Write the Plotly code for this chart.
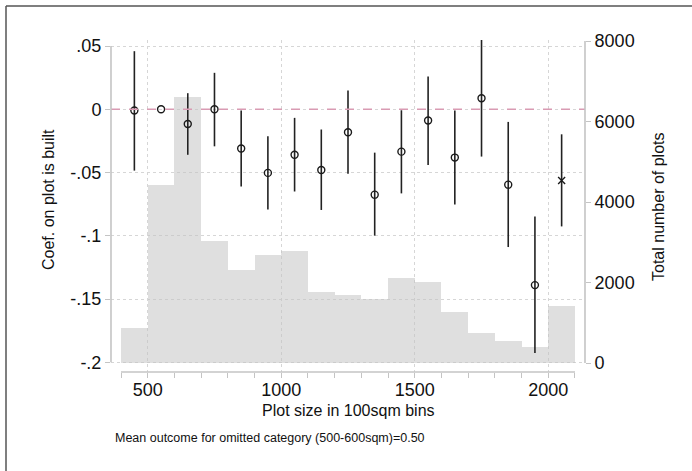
import plotly.graph_objects as go

# ---- data ----
bin_centers = [450, 550, 650, 750, 850, 950, 1050, 1150, 1250, 1350, 1450, 1550, 1650, 1750, 1850, 1950, 2050]
plot_counts = [870, 4430, 6600, 3030, 2300, 2675, 2790, 1775, 1700, 1585, 2120, 2015, 1270, 750, 545, 405, 1410]
coef = [-0.001, 0.0, -0.0116, 0.0, -0.031, -0.0503, -0.036, -0.048, -0.0182, -0.0675,
        -0.0335, -0.0089, -0.0382, 0.0087, -0.0596, -0.139, -0.0564]
ci_high = [0.0459, 0.0, 0.0127, 0.0288, -0.001, -0.0213, -0.0068, -0.016, 0.0148, -0.0343,
           -0.0008, 0.0259, -0.001, 0.0551, -0.01, -0.0847, -0.0198]
ci_low = [-0.0485, 0.0, -0.036, -0.0293, -0.061, -0.0793, -0.065, -0.0796, -0.0509, -0.0999,
          -0.0665, -0.044, -0.0752, -0.0374, -0.1089, -0.1927, -0.0926]
marker_symbols = ["circle-open"] * 16 + ["x-thin-open"]

x_major = [500, 1000, 1500, 2000]
x_minor = list(range(400, 2101, 100))
coef_ticks = [-0.2, -0.15, -0.1, -0.05, 0, 0.05]
coef_labels = ["-.2", "-.15", "-.1", "-.05", "0", ".05"]
count_ticks = [0, 2000, 4000, 6000, 8000]
count_labels = ["0", "2000", "4000", "6000", "8000"]

FONT = "Liberation Sans"
AXC = "#c4c4c4"

err_plus = [h - c for h, c in zip(ci_high, coef)]
err_minus = [c - l for c, l in zip(coef, ci_low)]

fig = go.Figure()
fig.add_trace(go.Bar(
    x=bin_centers, y=plot_counts, width=100,
    marker=dict(color="rgba(196,196,196,0.55)", line=dict(width=0)),
    yaxis="y", showlegend=False, hoverinfo="skip",
))
fig.add_trace(go.Scatter(
    x=bin_centers, y=coef, yaxis="y2", mode="markers",
    marker=dict(symbol=marker_symbols, size=7, color="#1a1a1a",
                line=dict(color="#1a1a1a", width=1.4)),
    error_y=dict(type="data", symmetric=False, array=err_plus, arrayminus=err_minus,
                 width=0, thickness=1.6, color="#222222"),
    showlegend=False,
))

L, R, T, B = 111, 107, 40, 99
W, H = 692, 471
pw, ph = W - L - R, H - T - B

def px(xp):
    return (xp - L) / pw

def py(yp):
    return (H - B - yp) / ph

fig.update_layout(
    width=W, height=H,
    margin=dict(l=L, r=R, t=T, b=B, pad=0),
    paper_bgcolor="white", plot_bgcolor="white",
    font=dict(family=FONT, color="#111111"),
    bargap=0,
    xaxis=dict(
        range=[362.5, 2137.5], tickvals=x_major, ticktext=[str(v) for v in x_major],
        ticks="outside", ticklen=5, tickcolor=AXC, tickwidth=1.2,
        ticklabelstandoff=-4,
        tickfont=dict(size=18, family=FONT, color="#111111"),
        showgrid=True, gridcolor="#d6d6d6", griddash="dot", gridwidth=1,
        minor=dict(tickvals=x_minor, ticks="outside", ticklen=5, tickcolor=AXC,
                   tickwidth=1.2, showgrid=False),
        zeroline=False, showline=False,
    ),
    yaxis=dict(
        side="right", range=[-223.6, 8024.8], tickvals=count_ticks, ticktext=count_labels,
        ticks="outside", ticklen=5, tickcolor=AXC, tickwidth=1.2,
        tickfont=dict(size=18, family=FONT, color="#111111"),
        showgrid=False, zeroline=False, showline=False,
    ),
    yaxis2=dict(
        side="left", overlaying="y", anchor="x",
        range=[-0.20767, 0.05474], tickvals=coef_ticks, ticktext=coef_labels,
        ticks="outside", ticklen=5, tickcolor=AXC, tickwidth=1.2,
        tickfont=dict(size=18, family=FONT, color="#111111"),
        showgrid=True, gridcolor="#d6d6d6", griddash="dot", gridwidth=1,
        zeroline=False, showline=False,
    ),
)

shapes = [
    # reference line at zero
    dict(type="line", xref="paper", yref="y2", x0=0, x1=1, y0=0, y1=0,
         line=dict(color="#d99bb3", width=1.3, dash="dash"), layer="above"),
    # axis lines
    dict(type="line", xref="paper", yref="y2", x0=0, x1=0, y0=-0.2, y1=0.05,
         line=dict(color=AXC, width=1.6)),
    dict(type="line", xref="paper", yref="y", x0=1, x1=1, y0=0, y1=8000,
         line=dict(color=AXC, width=1.6)),
    dict(type="line", xref="x", yref="paper", x0=400, x1=2100, y0=0, y1=0,
         line=dict(color=AXC, width=1.6)),
    # outer frame (left and top)
    dict(type="line", xref="paper", yref="paper", x0=px(6), x1=px(6), y0=py(6), y1=py(480),
         line=dict(color="#555555", width=1.5)),
    dict(type="line", xref="paper", yref="paper", x0=px(6), x1=px(700), y0=py(6), y1=py(6),
         line=dict(color="#555555", width=1.5)),
]
fig.update_layout(shapes=shapes)

annotations = [
    dict(text="Coef. on plot is built", xref="paper", yref="paper", x=px(48), y=py(200),
         textangle=-90, showarrow=False, xanchor="center", yanchor="middle",
         font=dict(size=16, family=FONT, color="#111111")),
    dict(text="Total number of plots", xref="paper", yref="paper", x=px(658), y=py(207),
         textangle=-90, showarrow=False, xanchor="center", yanchor="middle",
         font=dict(size=16, family=FONT, color="#111111")),
    dict(text="Plot size in 100sqm bins", xref="paper", yref="paper", x=px(348), y=py(411),
         showarrow=False, xanchor="center", yanchor="middle",
         font=dict(size=16, family=FONT, color="#111111")),
    dict(text="Mean outcome for omitted category (500-600sqm)=0.50", xref="paper", yref="paper",
         x=px(113), y=py(438), showarrow=False, xanchor="left", yanchor="middle",
         font=dict(size=12.5, family=FONT, color="#111111")),
]
fig.update_layout(annotations=annotations)

fig.write_html("out.html")
